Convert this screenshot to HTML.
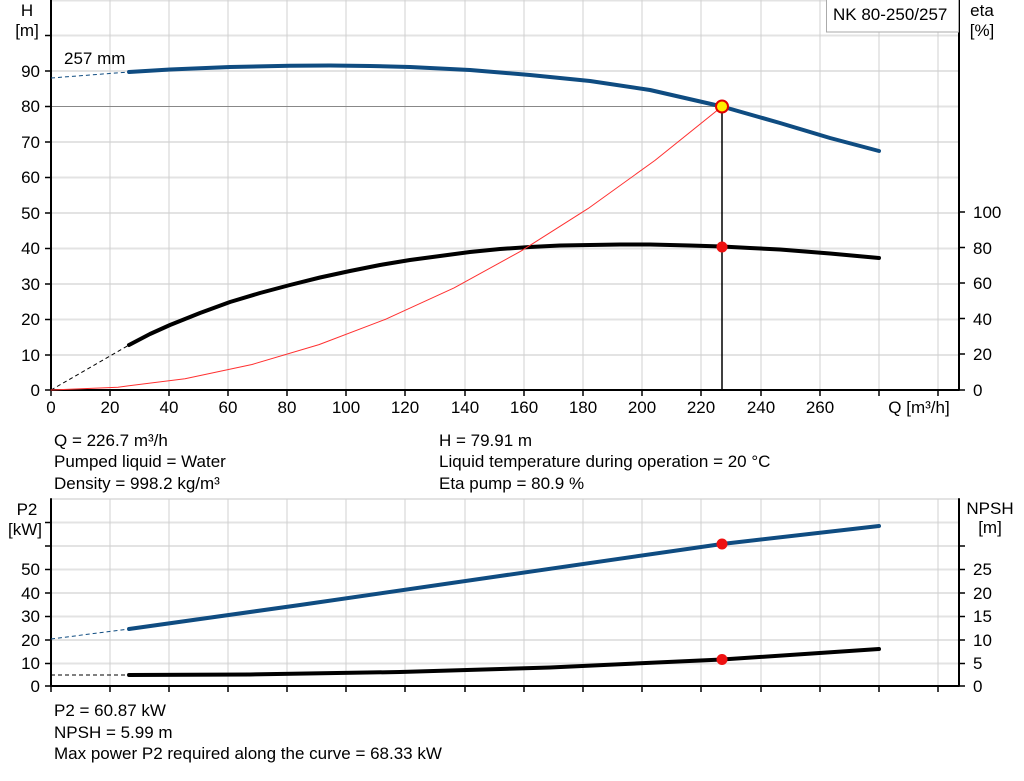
<!DOCTYPE html>
<html><head><meta charset="utf-8"><style>
body{margin:0;background:#fff;}
svg{display:block;font-family:"Liberation Sans",sans-serif;}
text{font-size:17px;fill:#000;}
polyline{stroke-linejoin:round;stroke-linecap:round;}
</style></head><body>
<svg width="1024" height="781" viewBox="0 0 1024 781">
<g stroke="#e3e3e3" stroke-width="2">
<line x1="51" y1="0.5" x2="959" y2="0.5"/>
<line x1="51" y1="35.5" x2="959" y2="35.5"/><line x1="51" y1="71" x2="959" y2="71"/>
<line x1="51" y1="142" x2="959" y2="142"/><line x1="51" y1="177.5" x2="959" y2="177.5"/>
<line x1="51" y1="213" x2="959" y2="213"/><line x1="51" y1="248.5" x2="959" y2="248.5"/>
<line x1="51" y1="284" x2="959" y2="284"/><line x1="51" y1="319.5" x2="959" y2="319.5"/>
<line x1="51" y1="355" x2="959" y2="355"/><line x1="722" y1="106.5" x2="959" y2="106.5"/>
<line x1="51" y1="499" x2="959" y2="499"/><line x1="51" y1="522.5" x2="959" y2="522.5"/>
<line x1="51" y1="546" x2="959" y2="546"/><line x1="51" y1="569.5" x2="959" y2="569.5"/>
<line x1="51" y1="593" x2="959" y2="593"/><line x1="51" y1="616.5" x2="959" y2="616.5"/>
<line x1="51" y1="640" x2="959" y2="640"/><line x1="51" y1="663.5" x2="959" y2="663.5"/>
</g>
<g stroke="#d0d0d0" stroke-width="1">
<line x1="110" y1="0" x2="110" y2="390"/><line x1="169" y1="0" x2="169" y2="390"/><line x1="228" y1="0" x2="228" y2="390"/><line x1="287" y1="0" x2="287" y2="390"/><line x1="346" y1="0" x2="346" y2="390"/><line x1="405" y1="0" x2="405" y2="390"/><line x1="465" y1="0" x2="465" y2="390"/><line x1="524" y1="0" x2="524" y2="390"/><line x1="583" y1="0" x2="583" y2="390"/><line x1="642" y1="0" x2="642" y2="390"/><line x1="701" y1="0" x2="701" y2="390"/><line x1="761" y1="0" x2="761" y2="390"/><line x1="820" y1="0" x2="820" y2="390"/><line x1="879" y1="0" x2="879" y2="390"/><line x1="938" y1="0" x2="938" y2="390"/>
<line x1="110" y1="499" x2="110" y2="686"/><line x1="169" y1="499" x2="169" y2="686"/><line x1="228" y1="499" x2="228" y2="686"/><line x1="287" y1="499" x2="287" y2="686"/><line x1="346" y1="499" x2="346" y2="686"/><line x1="405" y1="499" x2="405" y2="686"/><line x1="465" y1="499" x2="465" y2="686"/><line x1="524" y1="499" x2="524" y2="686"/><line x1="583" y1="499" x2="583" y2="686"/><line x1="642" y1="499" x2="642" y2="686"/><line x1="701" y1="499" x2="701" y2="686"/><line x1="761" y1="499" x2="761" y2="686"/><line x1="820" y1="499" x2="820" y2="686"/><line x1="879" y1="499" x2="879" y2="686"/><line x1="938" y1="499" x2="938" y2="686"/>
</g>
<line x1="51" y1="106.5" x2="722" y2="106.5" stroke="#888" stroke-width="1"/>
<g stroke="#000" stroke-width="2" fill="none">
<polyline points="51,0 51,390 959,390 959,0"/>
<polyline points="51,499 51,686 959,686 959,499"/>
</g>
<g stroke="#000" stroke-width="1.5">
<path d="M45,35.5h6M45,71h6M45,106.5h6M45,142h6M45,177.5h6M45,213h6M45,248.5h6M45,284h6M45,319.5h6M45,355h6M45,390h6"/>
<path d="M959,212h6M959,247.5h6M959,283h6M959,318.5h6M959,354h6M959,390h6"/>
<path d="M51,390v6M110,390v6M169,390v6M228,390v6M287,390v6M346,390v6M405,390v6M465,390v6M524,390v6M583,390v6M642,390v6M701,390v6M761,390v6M820,390v6M879,390v6M938,390v6"/>
<path d="M45,522.5h6M45,546h6M45,569.5h6M45,593h6M45,616.5h6M45,640h6M45,663.5h6M45,686h6"/>
<path d="M959,546h6M959,569.5h6M959,593h6M959,616.5h6M959,640h6M959,663.5h6M959,686h6"/>
<path d="M51,686v6M110,686v6M169,686v6M228,686v6M287,686v6M346,686v6M405,686v6M465,686v6M524,686v6M583,686v6M642,686v6M701,686v6M761,686v6M820,686v6M879,686v6M938,686v6"/>
</g>
<rect x="826.5" y="-1" width="132" height="33" fill="#fff" stroke="#aaa"/>
<text x="833" y="20">NK 80-250/257</text>
<line x1="51" y1="78" x2="129" y2="72" stroke="#0f4c81" stroke-dasharray="4,3" stroke-width="1"/>
<polyline fill="none" stroke="#0f4c81" stroke-width="4" points="129,72 170,69.5 230,67 290,65.7 330,65.5 370,66 410,67 470,70 530,75 590,81 650,90 722,106.5 780,123 830,138 879,151"/>
<line x1="51" y1="390" x2="129" y2="345" stroke="#000" stroke-dasharray="4,3" stroke-width="1"/>
<polyline fill="none" stroke="#000" stroke-width="4" points="129,345 150,334 170,325 200,313 230,302 260,293 290,285 320,277.5 350,271 380,265 410,260 440,256 470,252 500,249 530,247 560,245.5 590,245 620,244.5 650,244.5 690,245.5 722,246.5 750,248 780,249.5 830,253.5 879,258"/>
<polyline fill="none" stroke="#ff3030" stroke-width="1" points="51,390 118,387.2 185,378.7 252,364.5 319,344.6 386,319.1 454,287.9 521,251.1 588,208.6 655,160.4 722,106.5"/>
<line x1="722" y1="106.5" x2="722" y2="390" stroke="#000" stroke-width="1.5"/>
<circle cx="722" cy="106.5" r="6" fill="#ffee00" stroke="#e00000" stroke-width="2"/>
<circle cx="722" cy="247" r="5.5" fill="#ee1111"/>
<line x1="51" y1="639" x2="129" y2="629" stroke="#0f4c81" stroke-dasharray="4,3" stroke-width="1"/>
<polyline fill="none" stroke="#0f4c81" stroke-width="4" points="129,629 300,605 500,576 722,544 879,526"/>
<line x1="51" y1="675" x2="129" y2="675" stroke="#000" stroke-dasharray="4,3" stroke-width="1"/>
<polyline fill="none" stroke="#000" stroke-width="4" points="129,675 250,674.5 400,672 550,667.5 722,659.5 879,649"/>
<circle cx="722" cy="544" r="5.5" fill="#ee1111"/>
<circle cx="722" cy="659.5" r="5.5" fill="#ee1111"/>
<g text-anchor="end">
<text x="40" y="77">90</text><text x="40" y="112">80</text><text x="40" y="148">70</text><text x="40" y="183">60</text><text x="40" y="219">50</text><text x="40" y="254">40</text><text x="40" y="290">30</text><text x="40" y="325">20</text><text x="40" y="361">10</text><text x="40" y="396">0</text>
<text x="40" y="575">50</text><text x="40" y="599">40</text><text x="40" y="622">30</text><text x="40" y="646">20</text><text x="40" y="669">10</text><text x="40" y="692">0</text>
</g>
<text x="27" y="16" text-anchor="middle">H</text><text x="27" y="36" text-anchor="middle">[m]</text>
<text x="982" y="16" text-anchor="middle">eta</text><text x="982" y="36" text-anchor="middle">[%]</text>
<text x="27" y="515" text-anchor="middle">P2</text><text x="25" y="535" text-anchor="middle">[kW]</text>
<text x="990" y="514" text-anchor="middle">NPSH</text><text x="990" y="533" text-anchor="middle">[m]</text>
<text x="64" y="64">257 mm</text>
<g>
<text x="973" y="218">100</text><text x="973" y="254">80</text><text x="973" y="289">60</text><text x="973" y="325">40</text><text x="973" y="360">20</text><text x="973" y="396">0</text>
<text x="973" y="575">25</text><text x="973" y="599">20</text><text x="973" y="622">15</text><text x="973" y="646">10</text><text x="973" y="669">5</text><text x="973" y="692">0</text>
</g>
<g text-anchor="middle">
<text x="51" y="413">0</text><text x="110" y="413">20</text><text x="169" y="413">40</text><text x="228" y="413">60</text><text x="287" y="413">80</text><text x="346" y="413">100</text><text x="405" y="413">120</text><text x="465" y="413">140</text><text x="524" y="413">160</text><text x="583" y="413">180</text><text x="642" y="413">200</text><text x="701" y="413">220</text><text x="761" y="413">240</text><text x="820" y="413">260</text><text x="919" y="413">Q [m³/h]</text>
</g>
<text x="54" y="446">Q = 226.7 m³/h</text>
<text x="54" y="467">Pumped liquid = Water</text>
<text x="54" y="489">Density = 998.2 kg/m³</text>
<text x="439" y="446">H = 79.91 m</text>
<text x="439" y="467">Liquid temperature during operation = 20 °C</text>
<text x="439" y="489">Eta pump = 80.9 %</text>
<text x="54" y="716">P2 = 60.87 kW</text>
<text x="54" y="738">NPSH = 5.99 m</text>
<text x="54" y="759">Max power P2 required along the curve = 68.33 kW</text>
</svg>
</body></html>
